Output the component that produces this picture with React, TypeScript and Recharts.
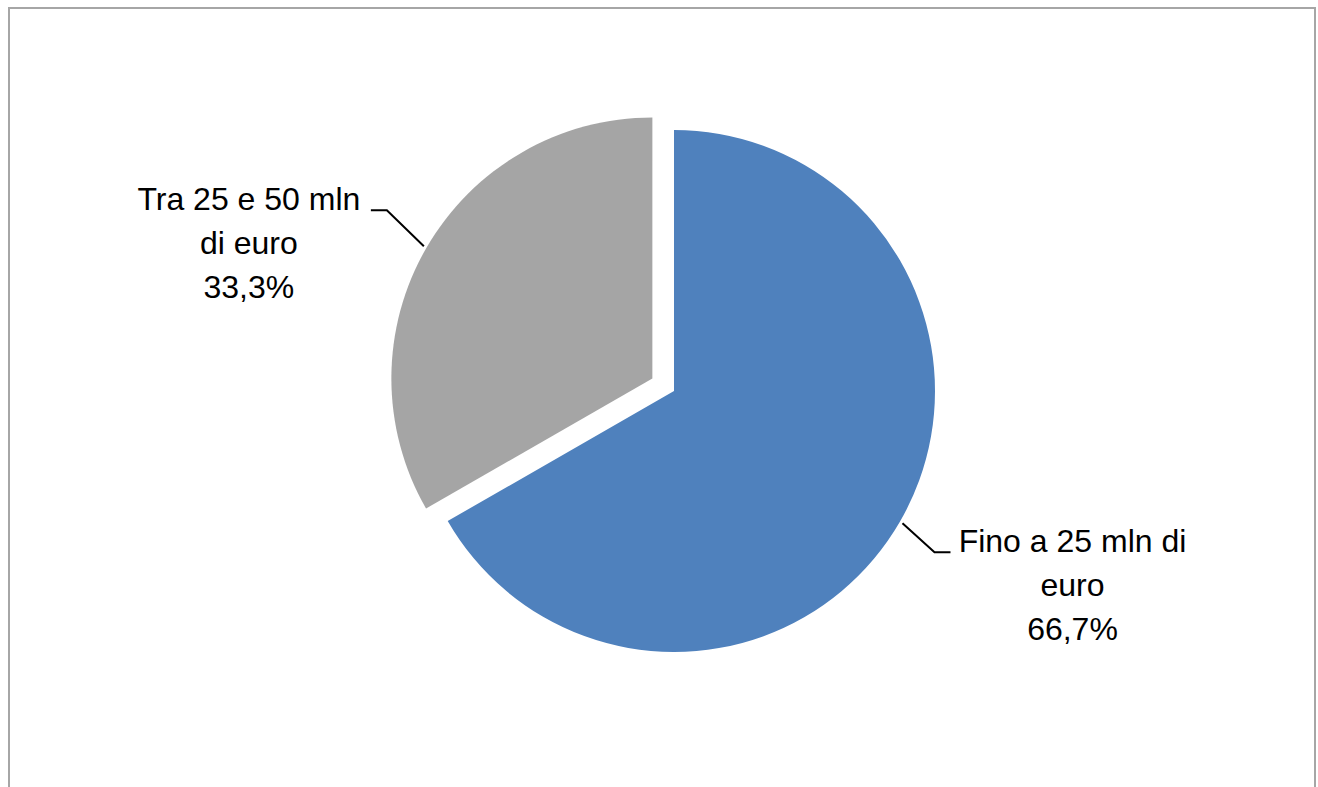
import { PieChart, Pie, Cell } from "recharts"

const categories = ["Fino a 25 mln di euro", "Tra 25 e 50 mln di euro"]
const shares = [66.7, 33.3]
const labelLines = [
  ["Fino a 25 mln di", "euro", "66,7%"],
  ["Tra 25 e 50 mln", "di euro", "33,3%"]
]
const colors = ["#4f81bd", "#a5a5a5"]

const data = categories.map((name, i) => ({ name, value: shares[i] }))

const RADIAN = Math.PI / 180
const CX = 664
const CY = 382
const R = 261
const EXPLODE = 25

// leader line offsets (elbow) per slice, as in the excel original
const elbows = [
  { dx: 32, dy: 29 },
  { dx: -37, dy: -36 }
]

const makeLabel = (show: number) => (props: any) => {
  const { cx, cy, midAngle, outerRadius, index } = props
  if (index !== show) return null
  const cos = Math.cos(-midAngle * RADIAN)
  const sin = Math.sin(-midAngle * RADIAN)
  const sx = cx + (outerRadius + 3) * cos
  const sy = cy + (outerRadius + 3) * sin
  const ex = sx + elbows[index].dx
  const ey = sy + elbows[index].dy
  const side = cos >= 0 ? 1 : -1
  const tx = ex + side * 16
  const textX = tx + side * 122
  return (
    <g>
      <polyline
        points={`${sx},${sy} ${ex},${ey} ${tx},${ey}`}
        fill="none"
        stroke="#000"
        strokeWidth={2}
      />
      {labelLines[index].map((line, i) => (
        <text
          key={i}
          x={textX}
          y={ey + i * 44}
          textAnchor="middle"
          fill="#000"
          fontSize={32}
          fontFamily="'Liberation Sans', Arial, sans-serif"
        >
          {line}
        </text>
      ))}
    </g>
  )
}

export default function App() {
  const grayMid = 90 - 360 * (shares[0] + shares[1] / 2) / (shares[0] + shares[1])
  const gx = CX + EXPLODE * Math.cos(grayMid * RADIAN)
  const gy = CY - EXPLODE * Math.sin(grayMid * RADIAN)
  return (
    <div
      style={{
        position: "absolute",
        left: 8,
        top: 7,
        width: 1304,
        height: 778,
        border: "2px solid #a6a6a6",
        borderBottom: "none",
        background: "#fff"
      }}
    >
      <PieChart width={1304} height={778} margin={{ top: 0, right: 0, bottom: 0, left: 0 }}>
        <Pie
          data={data}
          dataKey="value"
          cx={CX}
          cy={CY}
          outerRadius={R}
          startAngle={90}
          endAngle={-270}
          stroke="none"
          labelLine={false}
          label={makeLabel(0)}
          isAnimationActive={false}
        >
          {data.map((d, i) => (
            <Cell key={d.name} fill={i === 0 ? colors[0] : "none"} />
          ))}
        </Pie>
        <Pie
          data={data}
          dataKey="value"
          cx={gx}
          cy={gy}
          outerRadius={R}
          startAngle={90}
          endAngle={-270}
          stroke="none"
          labelLine={false}
          label={makeLabel(1)}
          isAnimationActive={false}
        >
          {data.map((d, i) => (
            <Cell key={d.name} fill={i === 1 ? colors[1] : "none"} />
          ))}
        </Pie>
      </PieChart>
    </div>
  )
}
